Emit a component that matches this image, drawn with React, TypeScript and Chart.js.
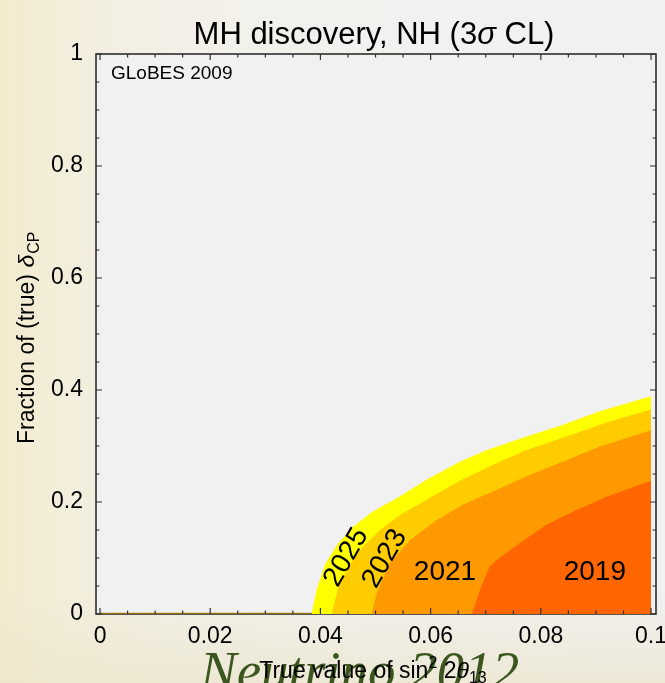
import React, { useEffect, useRef } from "react";
import { Chart, registerables } from "chart.js";

Chart.register(...registerables);

// Contour boundaries (true sin^2 2theta13 vs fraction of delta_CP), per year
const x2025 = [0.0384, 0.0393, 0.0408, 0.043, 0.0459, 0.0495, 0.0544, 0.0593, 0.0653, 0.0702, 0.0774, 0.0835, 0.0907, 0.1];
const y2025 = [0, 0.043, 0.088, 0.123, 0.156, 0.183, 0.21, 0.24, 0.272, 0.293, 0.317, 0.336, 0.362, 0.389];

const x2023 = [0.042, 0.0433, 0.0451, 0.0475, 0.0508, 0.0544, 0.0593, 0.0653, 0.0714, 0.0774, 0.0865, 0.0926, 0.1];
const y2023 = [0, 0.049, 0.085, 0.118, 0.15, 0.177, 0.204, 0.238, 0.267, 0.293, 0.323, 0.344, 0.365];

const x2021 = [0.0493, 0.0502, 0.0526, 0.0563, 0.0611, 0.066, 0.0714, 0.0774, 0.0835, 0.0907, 0.1];
const y2021 = [0, 0.037, 0.091, 0.132, 0.168, 0.196, 0.219, 0.246, 0.27, 0.299, 0.328];

const x2019 = [0.0675, 0.069, 0.0707, 0.0725, 0.0762, 0.0811, 0.0859, 0.092, 0.1];
const y2019 = [0, 0.045, 0.085, 0.1, 0.127, 0.16, 0.183, 0.21, 0.238];

const baselineX = [0, 0.0384];
const baselineY = [0, 0];

const regionColors = ["#FF6600", "#FF9900", "#FFCC00", "#FFFF00"]; // 2019, 2021, 2023, 2025

const xTickValues = [0, 0.02, 0.04, 0.06, 0.08, 0.1];
const xTickLabels = ["0", "0.02", "0.04", "0.06", "0.08", "0.1"];
const yTickValues = [0, 0.2, 0.4, 0.6, 0.8, 1];
const yTickLabels = ["0", "0.2", "0.4", "0.6", "0.8", "1"];

const labelTexts = ["2025", "2023", "2021", "2019"];
const labelX = [0.0447, 0.0517, 0.0626, 0.0898];
const labelY = [0.101, 0.099, 0.075, 0.075];
const labelAngle = [-60, -60, 0, 0];

const FONT = '"Liberation Sans", Arial, Helvetica, sans-serif';

const decor = {
  id: "decor",
  beforeDraw(chart: any) {
    const { ctx, chartArea: a } = chart;
    ctx.save();
    ctx.fillStyle = "#F1F1F1";
    ctx.fillRect(a.left, a.top, a.right - a.left, a.bottom - a.top);
    ctx.restore();
  },
  beforeDatasetsDraw(chart: any) {
    const { ctx, chartArea: a } = chart;
    ctx.save();
    ctx.strokeStyle = "#2e2e2e";
    ctx.lineWidth = 1.6;
    ctx.strokeRect(a.left, a.top, a.right - a.left, a.bottom - a.top);
    ctx.restore();
  },
  afterDatasetsDraw(chart: any) {
    const { ctx, chartArea: a, scales } = chart;
    const xs = scales.x;
    const ys = scales.y;
    ctx.save();
    ctx.strokeStyle = "#333";
    ctx.lineWidth = 1.2;
    ctx.beginPath();
    for (let i = 0; i <= 20; i++) {
      const v = i * 0.005;
      const len = i % 4 === 0 ? 6 : 3.5;
      const px = xs.getPixelForValue(v);
      ctx.moveTo(px, a.bottom);
      ctx.lineTo(px, a.bottom - len);
      ctx.moveTo(px, a.top);
      ctx.lineTo(px, a.top + len);
    }
    for (let i = 0; i <= 20; i++) {
      const v = i * 0.05;
      const len = i % 4 === 0 ? 6 : 3.5;
      const py = ys.getPixelForValue(v);
      ctx.moveTo(a.left, py);
      ctx.lineTo(a.left + len, py);
      ctx.moveTo(a.right, py);
      ctx.lineTo(a.right - len, py);
    }
    ctx.stroke();

    // contour labels
    ctx.fillStyle = "#000";
    ctx.font = `28px ${FONT}`;
    ctx.textAlign = "center";
    ctx.textBaseline = "middle";
    labelTexts.forEach((t, i) => {
      ctx.save();
      ctx.translate(xs.getPixelForValue(labelX[i]), ys.getPixelForValue(labelY[i]));
      ctx.rotate((labelAngle[i] * Math.PI) / 180);
      ctx.fillText(t, 0, 0);
      ctx.restore();
    });

    // GLoBES
    ctx.font = `19px ${FONT}`;
    ctx.textAlign = "left";
    ctx.textBaseline = "alphabetic";
    ctx.fillText("GLoBES 2009", 111, 79);
    ctx.restore();
  },
  afterDraw(chart: any) {
    const { ctx } = chart;
    ctx.save();
    ctx.fillStyle = "#000";
    ctx.textBaseline = "alphabetic";
    ctx.textAlign = "left";

    // Title
    const tSize = 31;
    const parts: [string, string][] = [
      ["MH discovery, NH (3", `${tSize}px ${FONT}`],
      ["\u03C3", `italic ${tSize}px ${FONT}`],
      [" CL)", `${tSize}px ${FONT}`],
    ];
    let total = 0;
    parts.forEach(([s, f]) => {
      ctx.font = f;
      total += ctx.measureText(s).width;
    });
    let cx = 374 - total / 2;
    parts.forEach(([s, f]) => {
      ctx.font = f;
      ctx.fillText(s, cx, 44);
      cx += ctx.measureText(s).width;
    });

    // Y axis title (rotated)
    ctx.save();
    ctx.translate(33.5, 444);
    ctx.rotate(-Math.PI / 2);
    ctx.font = `23px ${FONT}`;
    const yMain = "Fraction of (true) ";
    ctx.fillText(yMain, 0, 0);
    let w1 = ctx.measureText(yMain).width;
    ctx.font = `italic 23px ${FONT}`;
    ctx.fillText("\u03B4", w1, 0);
    w1 += ctx.measureText("\u03B4").width;
    ctx.font = `16px ${FONT}`;
    ctx.fillText("CP", w1 + 1, 5);
    ctx.restore();

    // Neutrino 2012 watermark
    ctx.font = `italic 55px "Liberation Serif", "DejaVu Serif", serif`;
    ctx.fillStyle = "#3b561f";
    ctx.fillText("Neutrino 2012", 200, 689);

    // X axis title
    ctx.fillStyle = "#000";
    const xParts: [string, string, number][] = [
      ["True value of sin", `23px ${FONT}`, 0],
      ["2", `16px ${FONT}`, -10],
      [" 2", `23px ${FONT}`, 0],
      ["\u03B8", `italic 23px ${FONT}`, 0],
      ["13", `16px ${FONT}`, 5],
    ];
    let xt = 0;
    xParts.forEach(([s, f]) => {
      ctx.font = f;
      xt += ctx.measureText(s).width;
    });
    let px = 373 - xt / 2;
    xParts.forEach(([s, f, dy]) => {
      ctx.font = f;
      ctx.fillText(s, px, 678 + dy);
      px += ctx.measureText(s).width;
    });
    ctx.restore();
  },
};

export default function App() {
  const ref = useRef<HTMLCanvasElement | null>(null);

  useEffect(() => {
    if (!ref.current) return;
    const toPts = (xs: number[], ys: number[]) => xs.map((x, i) => ({ x, y: ys[i] }));
    const regions = [
      toPts(x2019, y2019),
      toPts(x2021, y2021),
      toPts(x2023, y2023),
      toPts(x2025, y2025),
    ];
    const chart = new Chart(ref.current, {
      type: "line",
      data: {
        datasets: [
          {
            data: toPts(baselineX, baselineY),
            borderColor: "#9a7400",
            borderWidth: 2.5,
            pointRadius: 0,
            fill: false,
          } as any,
          ...regions.map((pts, i) => ({
            data: pts,
            borderWidth: 0,
            borderColor: regionColors[i],
            backgroundColor: regionColors[i],
            pointRadius: 0,
            fill: "origin",
            tension: 0,
          })),
        ],
      },
      options: {
        responsive: false,
        animation: false,
        events: [],
        layout: { padding: { left: 0, right: 9, top: 54, bottom: 0 } },
        plugins: { legend: { display: false }, tooltip: { enabled: false }, title: { display: false } },
        scales: {
          x: {
            type: "linear",
            min: -0.00073,
            max: 0.1009,
            grid: { display: false, drawTicks: false },
            border: { display: false },
            afterBuildTicks: (s: any) => {
              s.ticks = xTickValues.map((v) => ({ value: v }));
            },
            afterFit: (s: any) => {
              s.height = 69;
              s.paddingLeft = 0;
              s.paddingRight = 0;
            },
            ticks: {
              autoSkip: false,
              maxRotation: 0,
              padding: 9,
              color: "#000",
              font: { family: FONT, size: 23 },
              callback: (v: any) => {
                const i = xTickValues.findIndex((t) => Math.abs(t - v) < 1e-9);
                return i >= 0 ? xTickLabels[i] : "";
              },
            },
          },
          y: {
            type: "linear",
            min: 0,
            max: 1,
            grid: { display: false, drawTicks: false },
            border: { display: false },
            afterBuildTicks: (s: any) => {
              s.ticks = yTickValues.map((v) => ({ value: v }));
            },
            afterFit: (s: any) => {
              s.width = 96;
              s.paddingTop = 0;
              s.paddingBottom = 0;
            },
            ticks: {
              autoSkip: false,
              padding: 13,
              color: "#000",
              font: { family: FONT, size: 23 },
              callback: (v: any) => {
                const i = yTickValues.findIndex((t) => Math.abs(t - v) < 1e-9);
                return i >= 0 ? yTickLabels[i] : "";
              },
            },
          },
        },
      },
      plugins: [decor],
    });
    return () => chart.destroy();
  }, []);

  return (
    <div
      style={{
        position: "fixed",
        left: 0,
        top: 0,
        width: 665,
        height: 683,
        overflow: "hidden",
        background:
          "linear-gradient(0deg, rgba(236,229,203,0.7) 0%, rgba(236,229,203,0) 14%), linear-gradient(90deg, #F4EBCE 0%, #F3EEDC 10%, #F2F0E8 28%, #F1F1EE 55%, #F1F1F1 100%)",
      }}
    >
      <canvas ref={ref} width={665} height={683} style={{ display: "block", width: 665, height: 683 }} />
    </div>
  );
}
